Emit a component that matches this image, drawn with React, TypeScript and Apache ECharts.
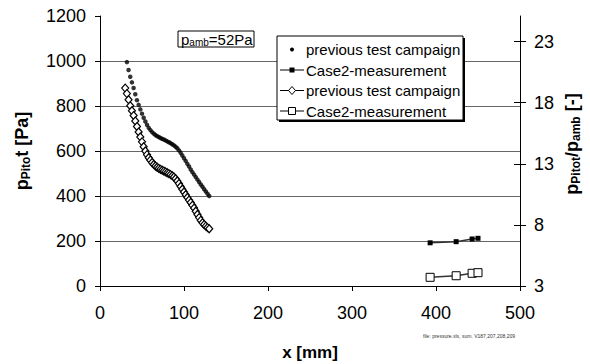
import React, { useEffect, useRef } from 'react';
import * as echarts from 'echarts';

// ---- data ----
const PREV_X = [32, 34, 36, 38, 40, 42, 44, 46, 48, 50, 52, 54, 56, 58, 60, 62, 64, 66, 68, 70, 72, 74, 76, 78, 80, 82, 84, 86, 88, 90, 92, 94, 96, 98, 100, 102, 104, 106, 108, 110, 112, 114, 116, 118, 120, 122, 124, 126, 128, 130];
const PREV_P = [995, 960, 930, 905, 880, 852, 826, 805, 785, 766, 748, 731, 716, 703, 693, 684, 677, 671, 666, 662, 658, 654, 651, 647, 643, 639, 635, 630, 625, 619, 612, 603, 592, 580, 568, 556, 543, 531, 518, 506, 495, 484, 473, 462, 451, 441, 430, 420, 410, 400];

const RATIO_X = [30, 32, 34, 36, 38, 40, 42, 44, 46, 48, 50, 52, 54, 56, 58, 60, 62, 64, 66, 68, 70, 72, 74, 76, 78, 80, 82, 84, 86, 88, 90, 92, 94, 96, 98, 100, 102, 104, 106, 108, 110, 112, 114, 116, 118, 120, 122, 124, 126, 128, 130];
const RATIO_V = [19.2, 18.75, 18.25, 17.75, 17.35, 16.95, 16.5, 16.05, 15.6, 15.2, 14.8, 14.4, 14.05, 13.75, 13.5, 13.3, 13.1, 12.95, 12.82, 12.72, 12.63, 12.55, 12.48, 12.41, 12.34, 12.27, 12.2, 12.12, 12.03, 11.92, 11.78, 11.6, 11.38, 11.15, 10.92, 10.7, 10.47, 10.25, 10.03, 9.83, 9.6, 9.38, 9.12, 8.85, 8.6, 8.37, 8.17, 8.03, 7.9, 7.78, 7.68];

const CASE2_X = [393, 424, 443, 450];
const CASE2_P = [192, 197, 209, 212];
const CASE2_RATIO = [3.71, 3.84, 4.04, 4.09];

const X_RANGE = [0, 500];
const X_STEP = 100;
const LEFT_RANGE = [0, 1200];
const LEFT_STEP = 200;
const RIGHT_RANGE = [3, 25.1];
const RIGHT_TICKS = [3, 8, 13, 18, 23];

const LEGEND_NAMES = ['previous test campaign', 'Case2-measurement', 'previous test campaign', 'Case2-measurement'];
const AMB_TEXT = '=52Pa';
const FILE_NOTE = 'file: pressure.xls, sum. V187,207,208,209';

const FONT = 'Liberation Sans';

const zip = (xs: number[], ys: number[]) => xs.map((x, i) => [x, ys[i]]);

function legendGraphic() {
  const left = 277;
  const top = 36;
  const w = 186;
  const h = 84;
  const rows = [49.5, 70, 90.5, 111];
  const sx = 292;
  const els: any[] = [
    { type: 'rect', shape: { x: left + 2, y: top + 2, width: w, height: h }, style: { fill: '#000' }, z: 10 },
    { type: 'rect', shape: { x: left, y: top, width: w, height: h }, style: { fill: '#fff', stroke: '#000', lineWidth: 1 }, z: 11 },
  ];
  rows.forEach((y, i) => {
    if (i > 0) {
      els.push({ type: 'line', shape: { x1: sx - 12, y1: y, x2: sx + 12, y2: y }, style: { stroke: '#000', lineWidth: 1 }, z: 12 });
    }
    if (i === 0) {
      els.push({ type: 'circle', shape: { cx: sx, cy: y, r: 2 }, style: { fill: '#000' }, z: 13 });
    } else if (i === 1) {
      els.push({ type: 'rect', shape: { x: sx - 2.5, y: y - 2.5, width: 5, height: 5 }, style: { fill: '#000' }, z: 13 });
    } else if (i === 2) {
      els.push({ type: 'polygon', shape: { points: [[sx, y - 4], [sx + 3.5, y], [sx, y + 4], [sx - 3.5, y]] }, style: { fill: '#fff', stroke: '#000', lineWidth: 1 }, z: 13 });
    } else {
      els.push({ type: 'rect', shape: { x: sx - 3.5, y: y - 3.5, width: 7, height: 7 }, style: { fill: '#fff', stroke: '#000', lineWidth: 1 }, z: 13 });
    }
    els.push({
      type: 'text', x: 306, y, z: 13,
      style: { text: LEGEND_NAMES[i], fontSize: 15, fontFamily: FONT, fill: '#000', verticalAlign: 'middle', align: 'left' },
    });
  });
  return els;
}

export default function App() {
  const ref = useRef<HTMLDivElement>(null);
  useEffect(() => {
    const chart = echarts.init(ref.current!, null, { renderer: 'svg' });
    const axisText = { fontSize: 18, color: '#000', fontFamily: FONT, formatter: (v: number) => String(v) };
    const option: any = {
      animation: false,
      backgroundColor: '#fff',
      textStyle: { fontFamily: FONT },
      grid: { left: 100, right: 70, top: 16, bottom: 78 },
      xAxis: {
        type: 'value', min: X_RANGE[0], max: X_RANGE[1], interval: X_STEP,
        axisLine: { show: true, onZero: false, lineStyle: { color: '#000', width: 1 } },
        axisTick: { show: true, length: 5, lineStyle: { color: '#000' } },
        axisLabel: { ...axisText, margin: 18 },
        splitLine: { show: false },
      },
      yAxis: [
        {
          type: 'value', min: LEFT_RANGE[0], max: LEFT_RANGE[1], interval: LEFT_STEP, position: 'left',
          axisLine: { show: true, onZero: false, lineStyle: { color: '#000', width: 1 } },
          axisTick: { show: true, length: 5, lineStyle: { color: '#000' } },
          axisLabel: { ...axisText, margin: 14 },
          splitLine: { show: true, showMinLine: false, showMaxLine: false, lineStyle: { color: '#666', width: 1 } },
        },
        {
          type: 'value', min: RIGHT_RANGE[0], max: RIGHT_RANGE[1], interval: 5, position: 'right',
          axisLine: { show: true, onZero: false, lineStyle: { color: '#000', width: 1 } },
          axisTick: { show: true, length: 6, customValues: RIGHT_TICKS, lineStyle: { color: '#000' } },
          axisLabel: { ...axisText, margin: 14, customValues: RIGHT_TICKS },
          splitLine: { show: false },
        },
        {
          type: 'value', min: RIGHT_RANGE[0], max: RIGHT_RANGE[1], interval: 5, position: 'right',
          axisLine: { show: false, onZero: false },
          axisTick: { show: true, inside: true, length: 6, customValues: RIGHT_TICKS, lineStyle: { color: '#000' } },
          axisLabel: { show: false },
          splitLine: { show: false },
        },
      ],
      series: [
        {
          name: LEGEND_NAMES[0], type: 'scatter', yAxisIndex: 0, silent: true,
          data: zip(PREV_X, PREV_P), symbol: 'circle', symbolSize: 4.5,
          itemStyle: { color: '#000' },
        },
        {
          name: LEGEND_NAMES[1], type: 'line', yAxisIndex: 0, silent: true,
          data: zip(CASE2_X, CASE2_P), symbol: 'rect', symbolSize: 5, showAllSymbol: true,
          itemStyle: { color: '#000' }, lineStyle: { color: '#333', width: 1.5 },
        },
        {
          name: LEGEND_NAMES[2], type: 'line', yAxisIndex: 1, silent: true,
          data: zip(RATIO_X, RATIO_V), symbol: 'diamond', symbolSize: [7, 8], showAllSymbol: true,
          itemStyle: { color: '#fff', borderColor: '#000', borderWidth: 1.2 }, lineStyle: { color: '#000', width: 1.5 },
        },
        {
          name: LEGEND_NAMES[3], type: 'line', yAxisIndex: 1, silent: true,
          data: zip(CASE2_X, CASE2_RATIO), symbol: 'rect', symbolSize: 8, showAllSymbol: true,
          itemStyle: { color: '#fff', borderColor: '#000', borderWidth: 1 }, lineStyle: { color: '#333', width: 1.5 },
        },
      ],
      graphic: [
        ...legendGraphic(),
        { type: 'rect', shape: { x: 178, y: 31, width: 76, height: 16 }, style: { fill: '#fff', stroke: '#000', lineWidth: 1 }, z: 10 },
        {
          type: 'text', x: 181, y: 39, z: 11,
          style: {
            text: '{a|p}{b|amb}{a|' + AMB_TEXT + '}',
            verticalAlign: 'middle', align: 'left',
            rich: {
              a: { fontSize: 15, fontFamily: FONT, fill: '#000', lineHeight: 17 },
              b: { fontSize: 10, fontFamily: FONT, fill: '#000', lineHeight: 10, verticalAlign: 'bottom' },
            },
          },
        },
        {
          type: 'text', x: 310, y: 352, z: 11,
          style: { text: 'x [mm]', fontSize: 17, fontWeight: 'bold', fontFamily: FONT, fill: '#000', align: 'center', verticalAlign: 'middle' },
        },
        {
          type: 'text', x: 22, y: 151, rotation: Math.PI / 2, z: 11,
          style: {
            text: '{a|p}{b|Pito}{a|t [Pa]}',
            align: 'center', verticalAlign: 'middle',
            rich: {
              a: { fontSize: 18, fontWeight: 'bold', fontFamily: FONT, fill: '#000', lineHeight: 20 },
              b: { fontSize: 12, fontWeight: 'bold', fontFamily: FONT, fill: '#000', lineHeight: 12, verticalAlign: 'bottom' },
            },
          },
        },
        {
          type: 'text', x: 572, y: 144, rotation: Math.PI / 2, z: 11,
          style: {
            text: '{a|p}{b|Pitot}{a|/p}{b|amb}{a| [-]}',
            align: 'center', verticalAlign: 'middle',
            rich: {
              a: { fontSize: 18, fontWeight: 'bold', fontFamily: FONT, fill: '#000', lineHeight: 20 },
              b: { fontSize: 12, fontWeight: 'bold', fontFamily: FONT, fill: '#000', lineHeight: 12, verticalAlign: 'bottom' },
            },
          },
        },
        {
          type: 'text', x: 423, y: 336, z: 11,
          style: { text: FILE_NOTE, fontSize: 5, fontFamily: FONT, fill: '#333', align: 'left', verticalAlign: 'middle' },
        },
      ],
    };
    chart.setOption(option);
    return () => chart.dispose();
  }, []);
  return <div ref={ref} style={{ position: 'fixed', left: 0, top: 0, width: 590, height: 364 }} />;
}
